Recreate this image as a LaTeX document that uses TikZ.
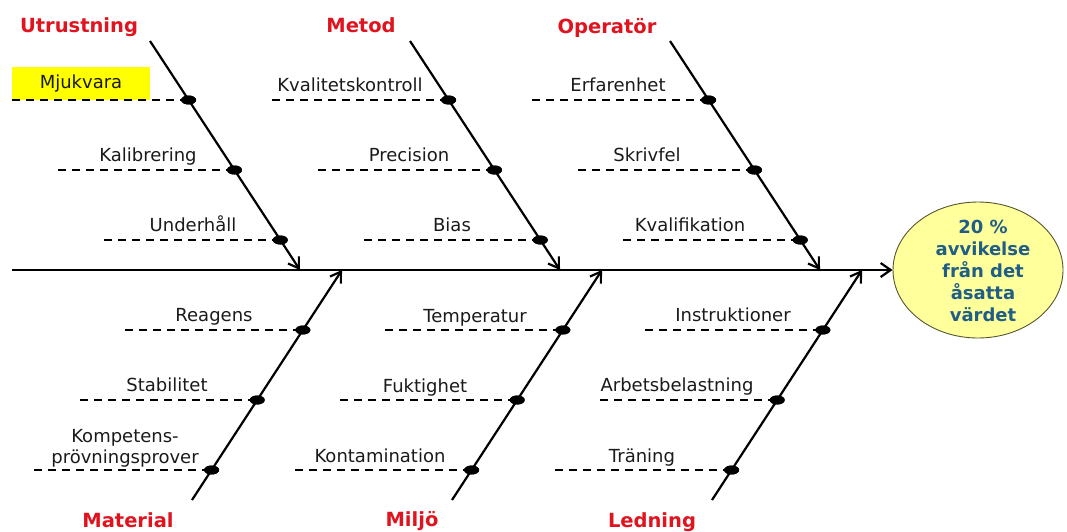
\documentclass[tikz,border=0pt]{standalone}
\usepackage{fontspec}
\setmainfont{DejaVu Sans}
\usetikzlibrary{arrows.meta,shapes.geometric}
\definecolor{titlered}{HTML}{E0141E}
\definecolor{efftext}{HTML}{215E86}
\definecolor{efffill}{HTML}{FFFF9C}
\definecolor{effborder}{HTML}{55552E}
\definecolor{hilite}{HTML}{FFFF00}
\definecolor{labeltext}{HTML}{1A1A1A}
\begin{document}
\begin{tikzpicture}[x=1pt,y=-1pt,
  bone/.style={line width=2.2pt,-{Straight Barb[length=10pt,width=13pt]}},
  dashline/.style={line width=2.2pt,dash pattern=on 8pt off 6pt},
  dot/.style={ellipse,fill=black,minimum width=15pt,minimum height=9pt,inner sep=0pt},
  cause/.style={font=\fontsize{18}{21}\selectfont,text=labeltext,anchor=base,inner sep=0pt},
  cat/.style={font=\fontsize{19.5}{22}\selectfont\bfseries,text=titlered,anchor=base,inner sep=0pt},
  effect/.style={ellipse,draw=effborder,line width=0.9pt,fill=efffill,minimum width=170pt,minimum height=136pt,inner sep=0pt}
]
\useasboundingbox (0,0) rectangle (1067,531);

% ---------- effect ----------
\node[effect] (eff) at (978,270) {};
\node[font=\fontsize{18}{22}\selectfont\bfseries,text=efftext,align=center,inner sep=0pt] (efft) at (983,271)
  {20 \%\\avvikelse\\från det\\åsatta\\värdet};

% ---------- spine ----------
\coordinate (tail) at (12,270);
\draw[line width=2.2pt,-{Straight Barb[length=10pt,width=14pt]}] (tail) -- (eff.west);

% ---------- highlight box ----------
\node[fill=hilite,minimum width=138pt,minimum height=33pt,inner sep=0pt,
      font=\fontsize{18}{21}\selectfont,text=labeltext] (mjuk) at (81,83.5) {Mjukvara};

% ---------- Utrustning ----------
\node[cat] (tU) at (79,32) {Utrustning};
\coordinate (uS) at (150,41); \coordinate (uE) at (300,270);
\node[dot] (u1) at (188.6,100) {};
\node[dot] (u2) at (234.5,170) {};
\node[dot] (u3) at (280.3,240) {};
\coordinate (u1s) at (12,100); \coordinate (u2s) at (58,170); \coordinate (u3s) at (104,240);
\draw[dashline] (u1s) -- (u1.center);
\draw[dashline] (u2s) -- (u2.center);
\draw[dashline] (u3s) -- (u3.center);
\node[cause] (lu2) at (148,161) {Kalibrering};
\node[cause] (lu3) at (193,231) {Underhåll};

% ---------- Metod ----------
\node[cat] (tM) at (361,32) {Metod};
\coordinate (mS) at (410,41); \coordinate (mE) at (560,270);
\node[dot] (m1) at (448.6,100) {};
\node[dot] (m2) at (494.5,170) {};
\node[dot] (m3) at (540.3,240) {};
\coordinate (m1s) at (272,100); \coordinate (m2s) at (318,170); \coordinate (m3s) at (364,240);
\draw[dashline] (m1s) -- (m1.center);
\draw[dashline] (m2s) -- (m2.center);
\draw[dashline] (m3s) -- (m3.center);
\node[cause] (lm1) at (350,91) {Kvalitetskontroll};
\node[cause] (lm2) at (409,161) {Precision};
\node[cause] (lm3) at (452,231) {Bias};

% ---------- Operator ----------
\node[cat] (tO) at (607,33) {Operatör};
\coordinate (oS) at (670,41); \coordinate (oE) at (820,270);
\node[dot] (o1) at (708.6,100) {};
\node[dot] (o2) at (754.5,170) {};
\node[dot] (o3) at (800.3,240) {};
\coordinate (o1s) at (532,100); \coordinate (o2s) at (578,170); \coordinate (o3s) at (623,240);
\draw[dashline] (o1s) -- (o1.center);
\draw[dashline] (o2s) -- (o2.center);
\draw[dashline] (o3s) -- (o3.center);
\node[cause] (lo1) at (618,91) {Erfarenhet};
\node[cause] (lo2) at (647,161) {Skrivfel};
\node[cause] (lo3) at (690,231) {Kvalifikation};

% ---------- Material ----------
\node[cat] (tMa) at (128,527) {Material};
\coordinate (aS) at (192,500); \coordinate (aE) at (342,270);
\node[dot] (a1) at (302.9,330) {};
\node[dot] (a2) at (257.2,400) {};
\node[dot] (a3) at (211.6,470) {};
\coordinate (a1s) at (125,330); \coordinate (a2s) at (80,400); \coordinate (a3s) at (34,470);
\draw[dashline] (a1s) -- (a1.center);
\draw[dashline] (a2s) -- (a2.center);
\draw[dashline] (a3s) -- (a3.center);
\node[cause] (la1) at (214,321) {Reagens};
\node[cause] (la2) at (167,391) {Stabilitet};
\node[cause] (la3a) at (125,442) {Kompetens-};
\node[cause] (la3b) at (125,463) {prövningsprover};

% ---------- Miljo ----------
\node[cat] (tMi) at (412,526) {Miljö};
\coordinate (iS) at (452,500); \coordinate (iE) at (602,270);
\node[dot] (i1) at (562.9,330) {};
\node[dot] (i2) at (517.2,400) {};
\node[dot] (i3) at (471.6,470) {};
\coordinate (i1s) at (385,330); \coordinate (i2s) at (340,400); \coordinate (i3s) at (295,470);
\draw[dashline] (i1s) -- (i1.center);
\draw[dashline] (i2s) -- (i2.center);
\draw[dashline] (i3s) -- (i3.center);
\node[cause] (li1) at (475,322) {Temperatur};
\node[cause] (li2) at (425,392) {Fuktighet};
\node[cause] (li3) at (380,462) {Kontamination};

% ---------- Ledning ----------
\node[cat] (tL) at (652,527) {Ledning};
\coordinate (lS) at (712,500); \coordinate (lE) at (862,270);
\node[dot] (l1) at (822.9,330) {};
\node[dot] (l2) at (777.2,400) {};
\node[dot] (l3) at (731.6,470) {};
\coordinate (l1s) at (645,330); \coordinate (l2s) at (600,400); \coordinate (l3s) at (555,470);
\draw[dashline] (l1s) -- (l1.center);
\draw[dashline] (l2s) -- (l2.center);
\draw[dashline] (l3s) -- (l3.center);
\node[cause] (ll1) at (733,321) {Instruktioner};
\node[cause] (ll2) at (677,391) {Arbetsbelastning};
\node[cause] (ll3) at (642,462) {Träning};

% ---------- bones ----------
\draw[bone] (uS) -- (uE);
\draw[bone] (mS) -- (mE);
\draw[bone] (oS) -- (oE);
\draw[bone] (aS) -- (aE);
\draw[bone] (iS) -- (iE);
\draw[bone] (lS) -- (lE);

% dots on top of bones
\foreach \d in {u1,u2,u3,m1,m2,m3,o1,o2,o3,a1,a2,a3,i1,i2,i3,l1,l2,l3}
  \fill (\d.center) ellipse (7.5pt and 4.5pt);
\end{tikzpicture}
\end{document}
